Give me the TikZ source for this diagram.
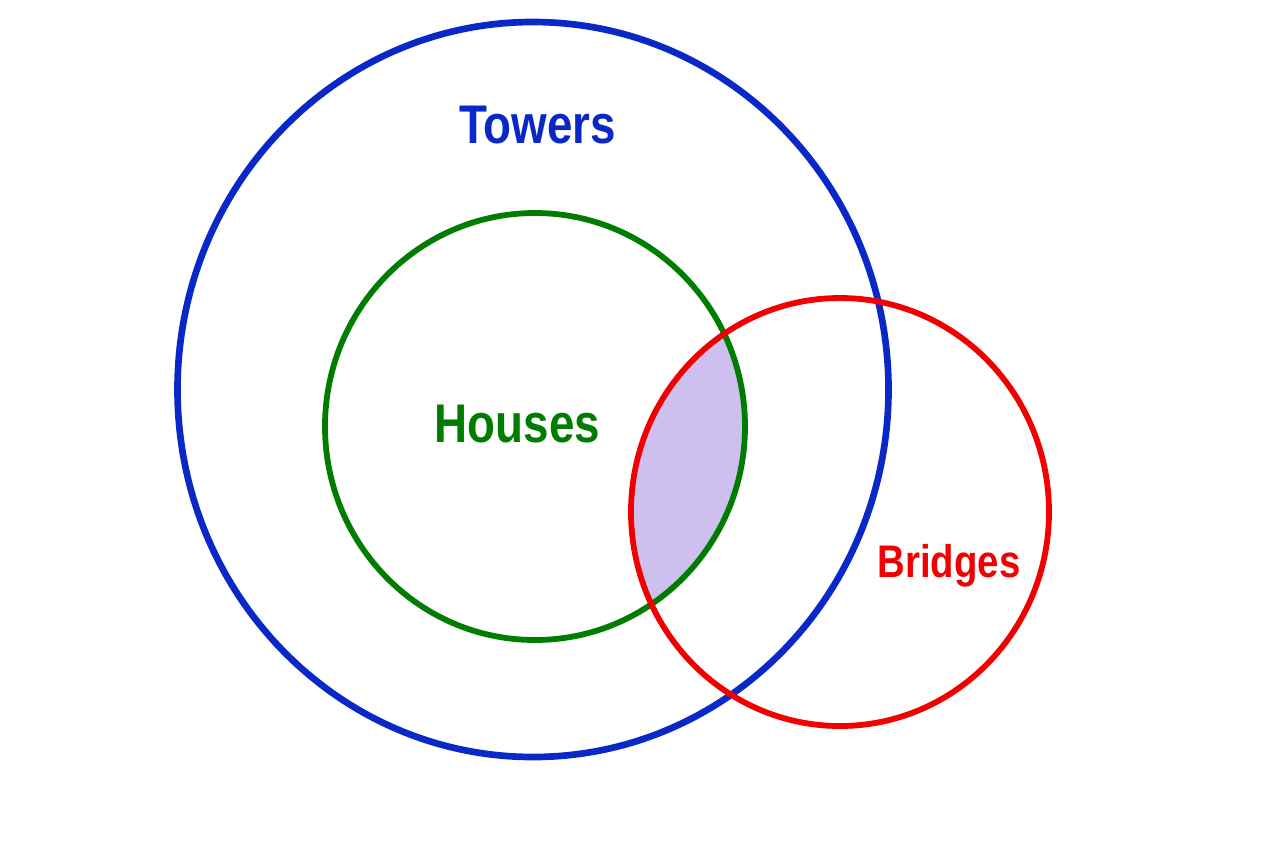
\documentclass[tikz,border=0pt]{standalone}
\usepackage{fontspec}
\newfontfamily\setfont[FakeStretch=0.84]{Liberation Sans}
\usepackage{xcolor}
\definecolor{towerblue}{RGB}{10,40,200}
\definecolor{housegreen}{RGB}{0,125,0}
\definecolor{bridgered}{RGB}{240,0,0}
\definecolor{lensfill}{RGB}{205,191,238}

\begin{document}
\begin{tikzpicture}[
            x=0.02cm, y=-0.02cm,
            setline/.style={line width=3.3pt},
            setlabel/.style={anchor=base, inner sep=0pt, font=\setfont\bfseries\fontsize{31}{34}\selectfont}
        ]
            \useasboundingbox (0,0) rectangle (1280,853);

            % --- Intersection Houses / Bridges ---
            \begin{scope}
                \clip (535,426.5) ellipse [x radius=210, y radius=213.5];
                \fill[lensfill] (840,512) ellipse [x radius=209, y radius=214];
            \end{scope}

            % --- Sets ---
            \draw[setline, towerblue, line width=3.8pt] (533,389.5) ellipse [x radius=355.5, y radius=367.5];
            \draw[setline, housegreen] (535,426.5) ellipse [x radius=210, y radius=213.5];
            \draw[setline, bridgered] (840,512) ellipse [x radius=209, y radius=214];

            % --- Labels ---
            \node[setlabel, text=towerblue] (towers) at (537.5,143) {Towers};
            \node[setlabel, text=housegreen] (houses) at (517.5,442) {Houses};
            \node[setlabel, text=bridgered, font=\setfont\bfseries\fontsize{26}{29}\selectfont] (bridges) at (949,577) {Bridges};

        \end{tikzpicture}
\end{document}
